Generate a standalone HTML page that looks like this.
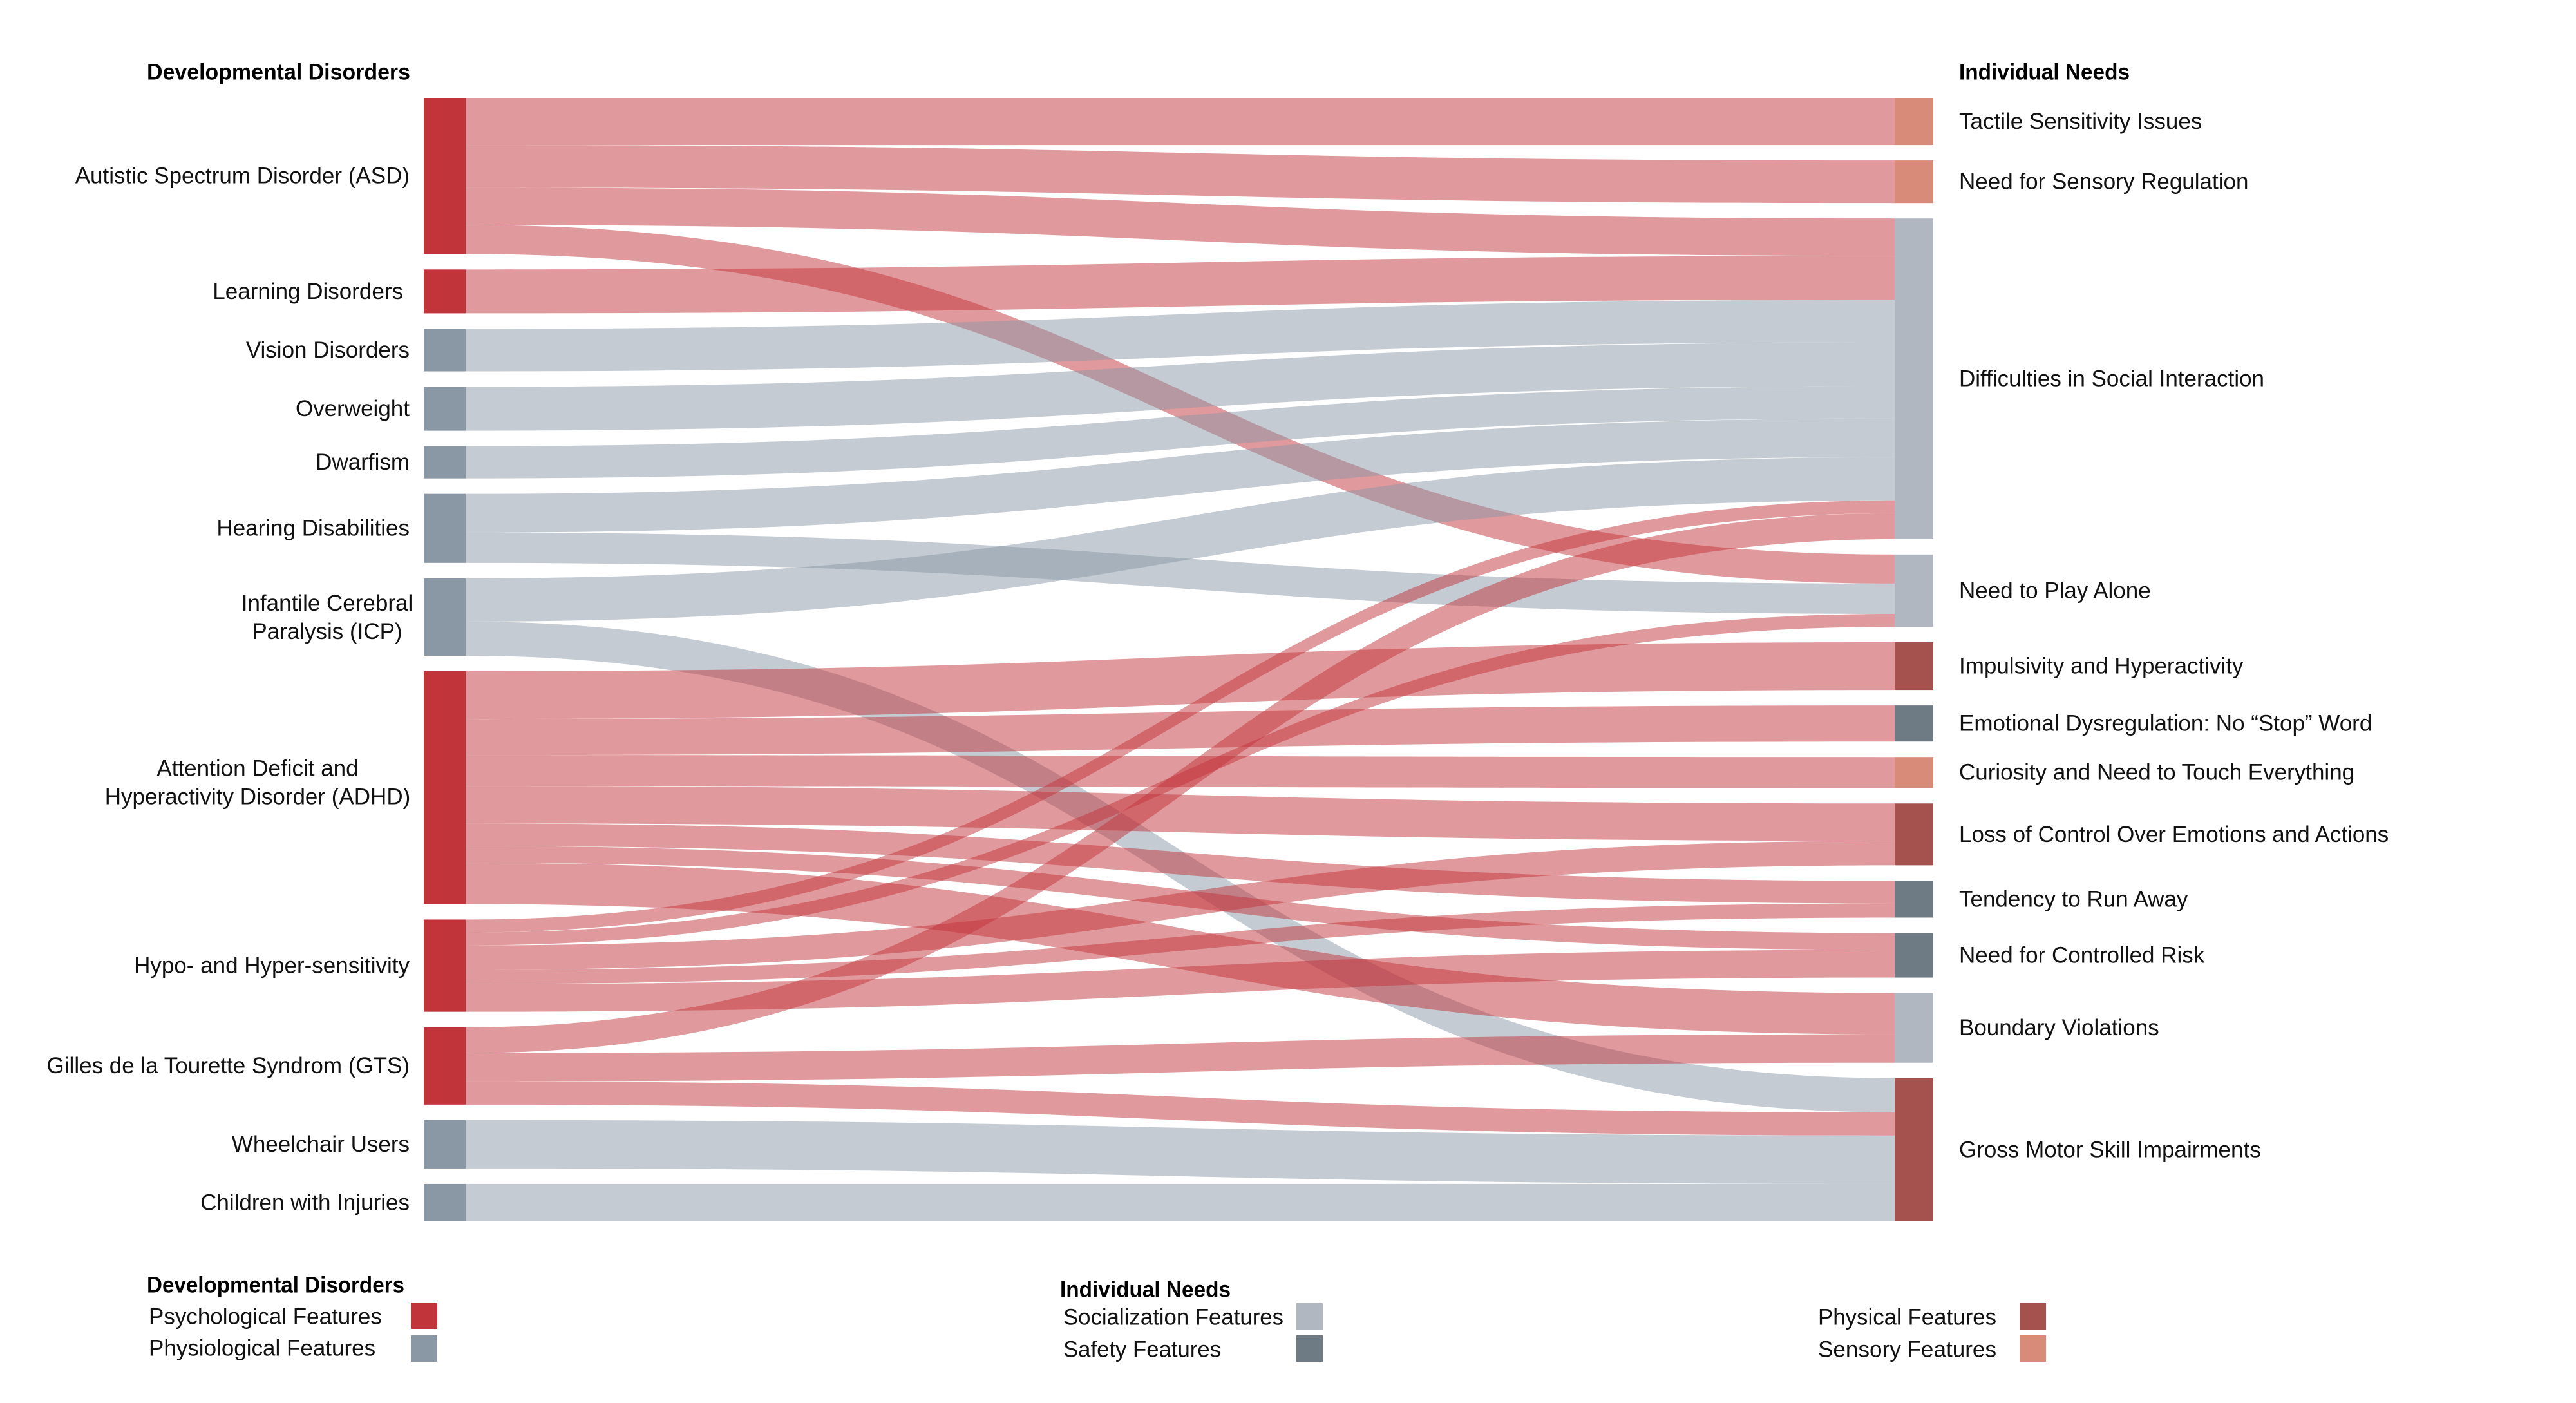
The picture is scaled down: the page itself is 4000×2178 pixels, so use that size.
<!DOCTYPE html>
<html><head><meta charset="utf-8"><style>
html,body{margin:0;padding:0;background:#fff;}
svg{display:block;font-family:"Liberation Sans",Arial,sans-serif;}
</style></head><body>
<svg id="chart" width="4000" height="2178" viewBox="0 0 4000 2178" xmlns="http://www.w3.org/2000/svg">
<rect width="4000" height="2178" fill="#fff"/>
<g id="links"></g>
<g id="nodes"></g>
<g id="labels"></g>
<text x="228" y="112" dominant-baseline="central" font-weight="bold" font-size="35" textLength="409" lengthAdjust="spacingAndGlyphs" fill="#000">Developmental Disorders</text>
<text x="3042" y="112" dominant-baseline="central" font-weight="bold" font-size="35" textLength="265" lengthAdjust="spacingAndGlyphs" fill="#000">Individual Needs</text>
<g font-size="35" fill="#111">
  <text x="228" y="1995" dominant-baseline="central" font-weight="bold" textLength="400" lengthAdjust="spacingAndGlyphs" fill="#000">Developmental Disorders</text>
  <text x="231" y="2044" dominant-baseline="central">Psychological Features</text>
  <rect x="638" y="2022" width="41" height="41" fill="#C1343A"/>
  <text x="231" y="2093" dominant-baseline="central">Physiological Features</text>
  <rect x="638" y="2073" width="41" height="41" fill="#8A97A5"/>
  <text x="1646" y="2002" dominant-baseline="central" font-weight="bold" textLength="265" lengthAdjust="spacingAndGlyphs" fill="#000">Individual Needs</text>
  <text x="1651" y="2045" dominant-baseline="central" textLength="342" lengthAdjust="spacingAndGlyphs">Socialization Features</text>
  <rect x="2013" y="2023" width="41" height="41" fill="#B0B7C1"/>
  <text x="1651" y="2095" dominant-baseline="central" textLength="245" lengthAdjust="spacingAndGlyphs">Safety Features</text>
  <rect x="2013" y="2073" width="41" height="41" fill="#6E7A84"/>
  <text x="3100" y="2045" dominant-baseline="central" text-anchor="end" textLength="277" lengthAdjust="spacingAndGlyphs">Physical Features</text>
  <rect x="3136" y="2023" width="41" height="41" fill="#A5524F"/>
  <text x="3100" y="2095" dominant-baseline="central" text-anchor="end" textLength="277" lengthAdjust="spacingAndGlyphs">Sensory Features</text>
  <rect x="3136" y="2073" width="41" height="41" fill="#D98B79"/>
</g>
</svg>
<script>
const sources = ["Autistic Spectrum Disorder (ASD)","Learning Disorders","Vision Disorders","Overweight","Dwarfism","Hearing Disabilities","Infantile Cerebral|Paralysis (ICP)","Attention Deficit and|Hyperactivity Disorder (ADHD)","Hypo- and Hyper-sensitivity","Gilles de la Tourette Syndrom (GTS)","Wheelchair Users","Children with Injuries"];
const sourceTypes = ["psych","psych","physio","physio","physio","physio","physio","psych","psych","psych","physio","physio"];
const targets = ["Tactile Sensitivity Issues","Need for Sensory Regulation","Difficulties in Social Interaction","Need to Play Alone","Impulsivity and Hyperactivity","Emotional Dysregulation: No \u201cStop\u201d Word","Curiosity and Need to Touch Everything","Loss of Control Over Emotions and Actions","Tendency to Run Away","Need for Controlled Risk","Boundary Violations","Gross Motor Skill Impairments"];
const targetTypes = ["sensory","sensory","social","social","physical","safety","sensory","physical","safety","safety","social","physical"];
const linkSource = [0,0,0,0,1,2,3,4,5,5,6,6,7,7,7,7,7,7,7,8,8,8,8,8,9,9,9,10,11];
const linkTarget = [0,1,2,3,2,2,2,2,2,3,2,11,4,5,6,7,8,9,10,2,3,7,8,9,2,10,11,11,11];
const linkValue  = [73,66,58,45,68,66,68,50,60,47,67,53,74,56,48,58,35,26,64,20,20,38,22,43,40,44,36,75,58];

const colors = {psych:"#C1343A",physio:"#8A97A5",physical:"#A5524F",sensory:"#D98B79",social:"#B0B7C1",safety:"#6E7A84"};
const top0 = 152, bottom0 = 1896, gap = 24;
const xL0 = 658, xL1 = 723, xR0 = 2942, xR1 = 3002;
const NS = "http://www.w3.org/2000/svg";

function sums(n, key){ const s = new Array(n).fill(0); linkValue.forEach((v,i)=>{ s[key[i]] += v; }); return s; }
const srcTot = sums(sources.length, linkSource);
const tgtTot = sums(targets.length, linkTarget);
function layout(tot){
  const total = tot.reduce((a,b)=>a+b,0);
  const k = (bottom0 - top0 - gap*(tot.length-1)) / total;
  const ys = []; let y = top0;
  tot.forEach(v=>{ ys.push(y); y += v*k + gap; });
  return {ys, k};
}
const L = layout(srcTot), R = layout(tgtTot);
const k = Math.min(L.k, R.k);

const linksG = document.getElementById('links');
const nodesG = document.getElementById('nodes');
const labelsG = document.getElementById('labels');

// link offsets
const srcOff = L.ys.slice(), tgtOff = R.ys.slice();
const idxBySrc = linkValue.map((_,i)=>i).sort((a,b)=> linkSource[a]-linkSource[b] || linkTarget[a]-linkTarget[b]);
const sy = {}; idxBySrc.forEach(i=>{ sy[i] = srcOff[linkSource[i]]; srcOff[linkSource[i]] += linkValue[i]*k; });
const idxByTgt = linkValue.map((_,i)=>i).sort((a,b)=> linkTarget[a]-linkTarget[b] || linkSource[a]-linkSource[b]);
const ty = {}; idxByTgt.forEach(i=>{ ty[i] = tgtOff[linkTarget[i]]; tgtOff[linkTarget[i]] += linkValue[i]*k; });

const xm = (xL1 + xR0)/2;
linkValue.forEach((v,i)=>{
  const w = v*k, a = sy[i], b = ty[i];
  const p = document.createElementNS(NS,'path');
  p.setAttribute('d', `M${xL1},${a} C${xm},${a} ${xm},${b} ${xR0},${b} L${xR0},${b+w} C${xm},${b+w} ${xm},${a+w} ${xL1},${a+w} Z`);
  const c = sourceTypes[linkSource[i]]==='psych' ? colors.psych : colors.physio;
  p.setAttribute('fill', c);
  p.setAttribute('fill-opacity', '0.5');
  
  
  linksG.appendChild(p);
});

function label(text, x, cy, anchor, lineOffsets){
  const t = document.createElementNS(NS,'text');
  
  
  t.setAttribute('font-size', '35');
  t.setAttribute('fill', '#111');
  t.setAttribute('text-anchor', anchor);
  t.setAttribute('dominant-baseline', 'central');
  const lines = text.split('|');
  if (lines.length === 1){ t.setAttribute('x', x); t.setAttribute('y', cy); t.textContent = text; }
  else {
    lines.forEach((ln,j)=>{
      const s = document.createElementNS(NS,'tspan');
      s.setAttribute('x', x);
      s.setAttribute('y', cy + lineOffsets[j]);
      s.textContent = ln;
      t.appendChild(s);
    });
  }
  labelsG.appendChild(t);
}

sources.forEach((s,i)=>{
  const r = document.createElementNS(NS,'rect');
  const h = srcTot[i]*k;
  r.setAttribute('x', xL0); r.setAttribute('y', L.ys[i]); r.setAttribute('width', xL1-xL0); r.setAttribute('height', h);
  r.setAttribute('fill', colors[sourceTypes[i]]);
  
  
  nodesG.appendChild(r);
  const cy = L.ys[i] + h/2;
  if (s.indexOf('|')>=0){
    const cx = i===6 ? 508 : 400;
    label(s, cx, cy - (i===6?0:8), 'middle', [-22, 22]);
  } else {
    label(s, i===1 ? 626 : 636, cy, 'end');
  }
});
targets.forEach((s,i)=>{
  const r = document.createElementNS(NS,'rect');
  const h = tgtTot[i]*k;
  r.setAttribute('x', xR0); r.setAttribute('y', R.ys[i]); r.setAttribute('width', xR1-xR0); r.setAttribute('height', h);
  r.setAttribute('fill', colors[targetTypes[i]]);
  
  
  nodesG.appendChild(r);
  label(s, 3042, R.ys[i] + h/2, 'start');
});
</script>
</body></html>
